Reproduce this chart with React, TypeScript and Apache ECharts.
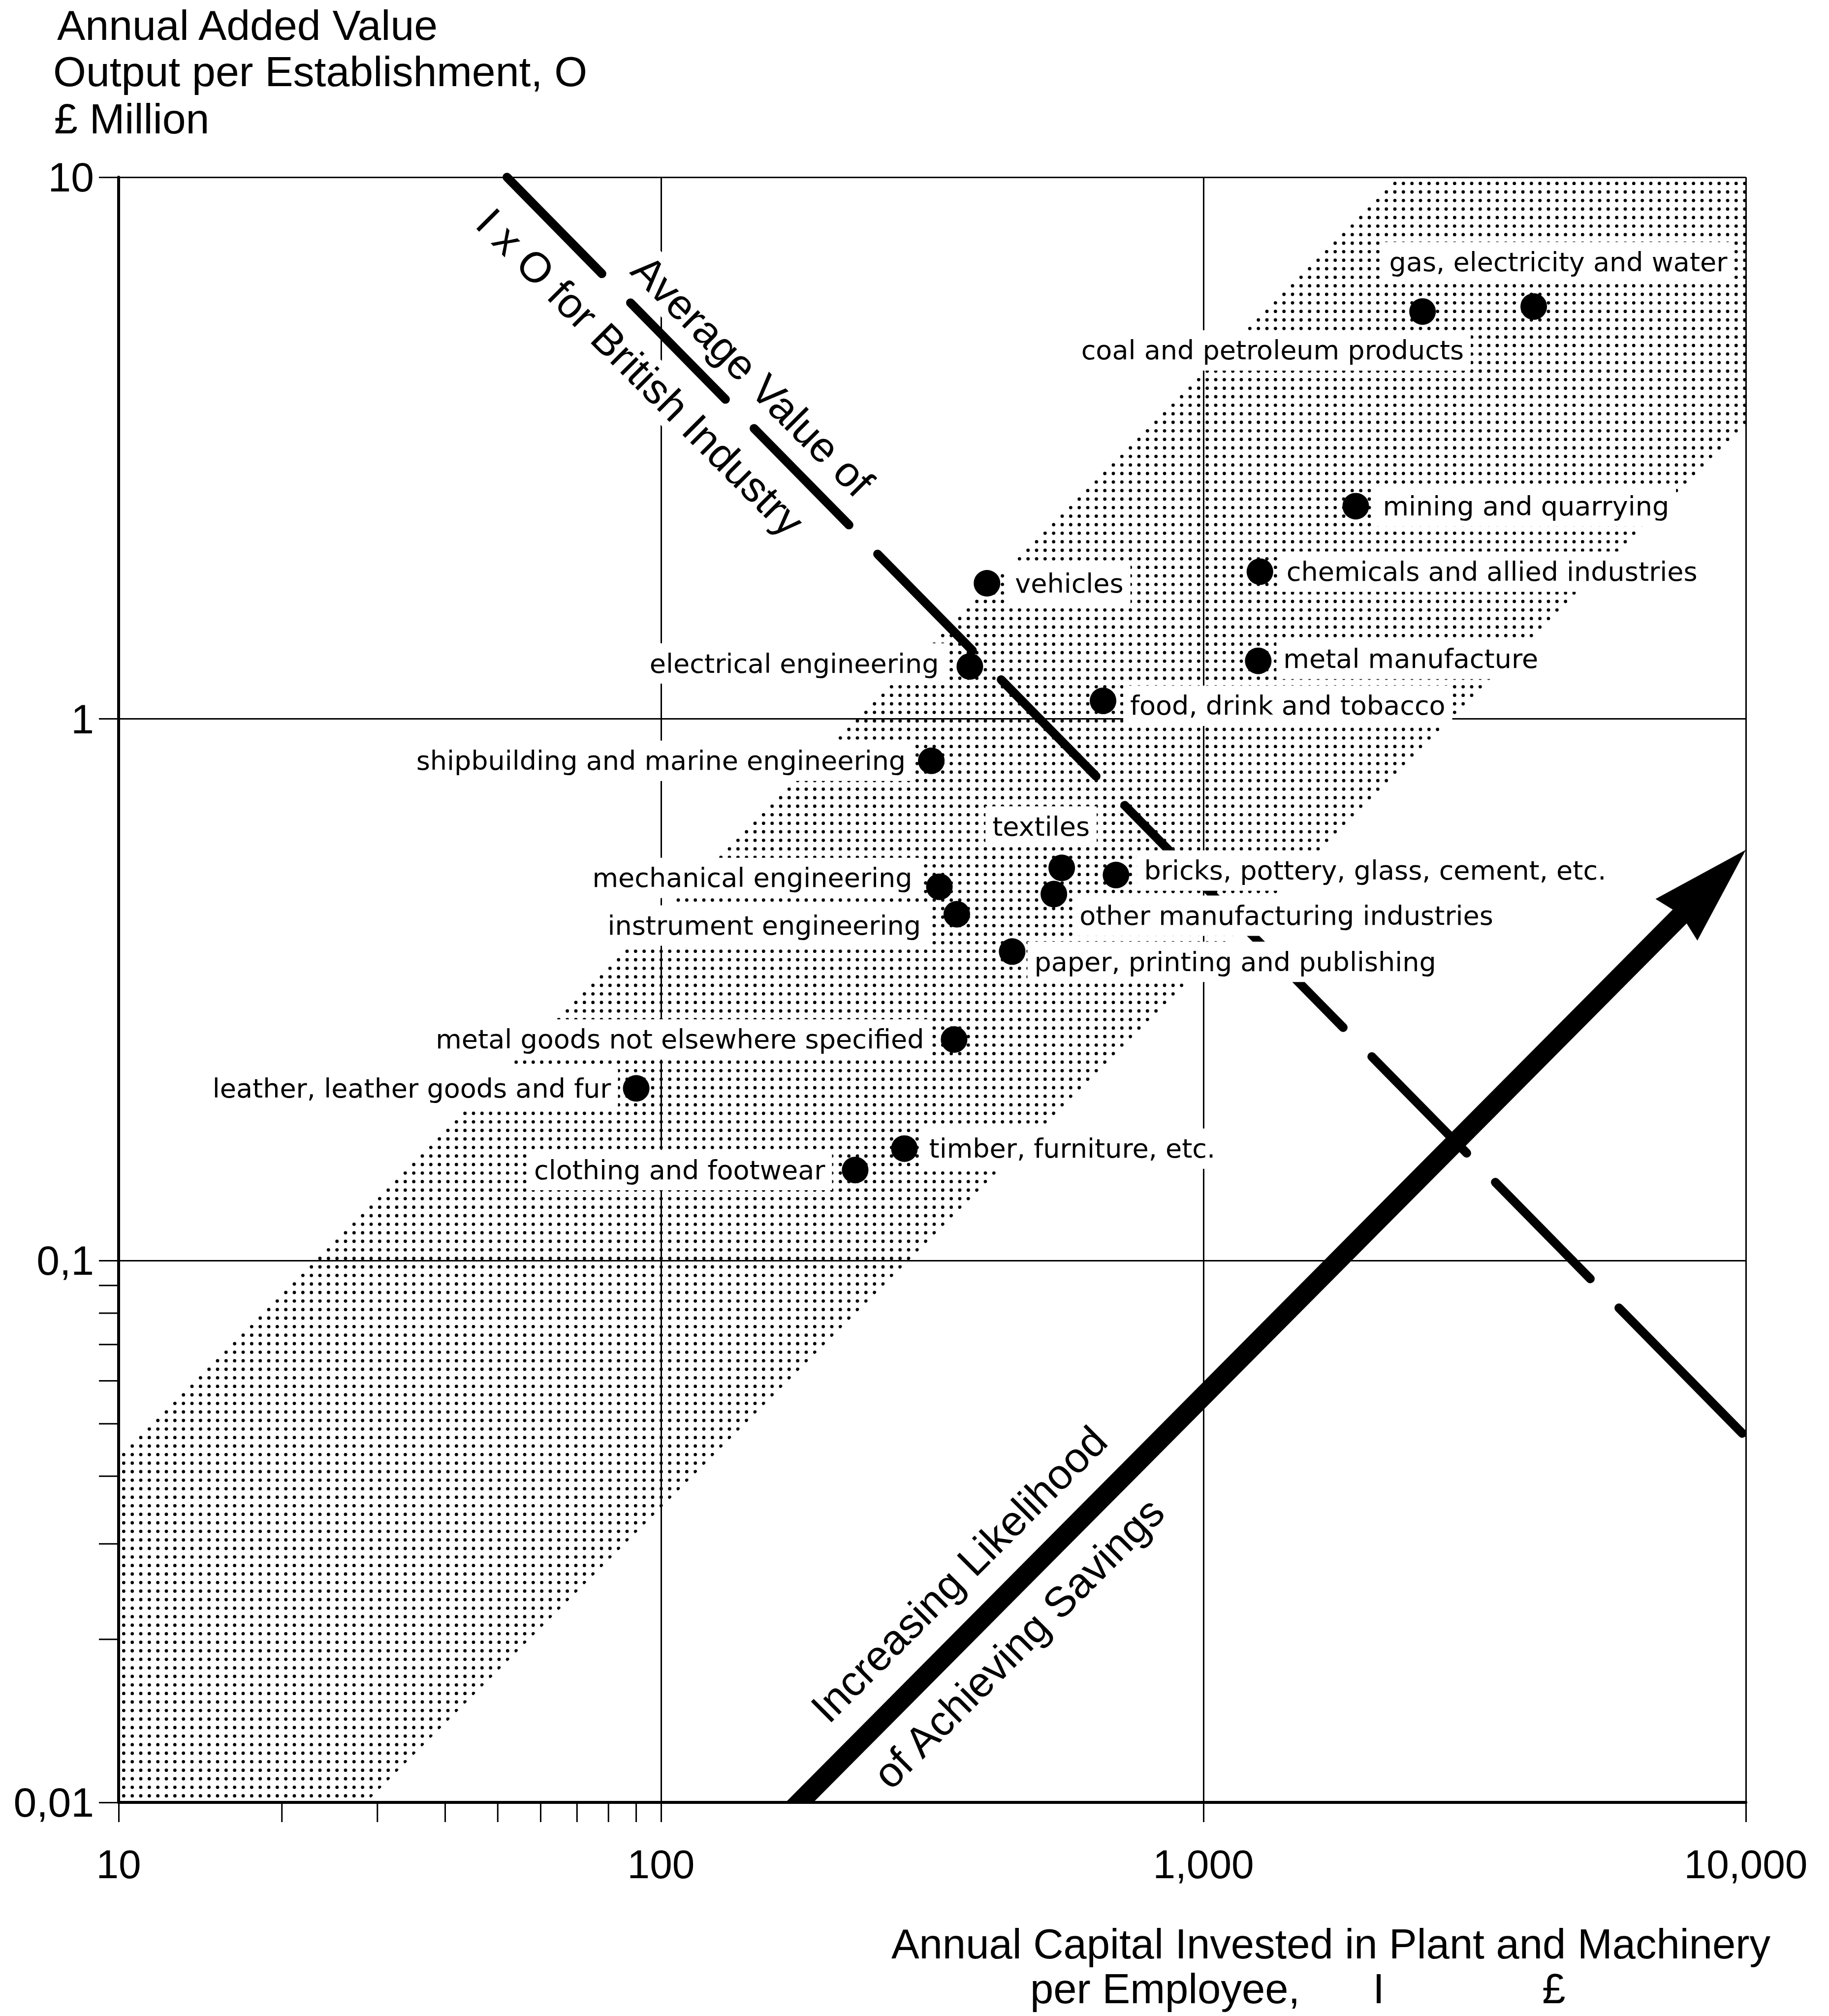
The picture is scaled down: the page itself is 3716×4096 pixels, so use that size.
import React, { useEffect, useRef } from 'react';
import * as echarts from 'echarts';

// ---------- data ----------
const industries = [
  'gas, electricity and water',
  'coal and petroleum products',
  'mining and quarrying',
  'chemicals and allied industries',
  'vehicles',
  'electrical engineering',
  'metal manufacture',
  'food, drink and tobacco',
  'shipbuilding and marine engineering',
  'textiles',
  'bricks, pottery, glass, cement, etc.',
  'mechanical engineering',
  'other manufacturing industries',
  'instrument engineering',
  'paper, printing and publishing',
  'metal goods not elsewhere specified',
  'leather, leather goods and fur',
  'timber, furniture, etc.',
  'clothing and footwear',
];
// I : annual capital invested in plant and machinery per employee (£)
const capitalPerEmployee = [4064, 2535, 1909, 1271, 399, 371, 1262, 653, 315, 548, 690, 326, 530, 351, 444, 347, 90, 281, 228];
// O : annual added value output per establishment (£ million)
const outputPerEstablishment = [5.77, 5.65, 2.47, 1.87, 1.78, 1.25, 1.28, 1.08, 0.837, 0.531, 0.515, 0.49, 0.475, 0.436, 0.372, 0.256, 0.208, 0.161, 0.147];

const xRange = [10, 10000];
const yRange = [0.01, 10];
const xTickLabels = ['10', '100', '1,000', '10,000'];
const yTickLabels = ['0,01', '0,1', '1', '10'];
const xMinorTicks = [20, 30, 40, 50, 60, 70, 80, 90];
const yMinorTicks = [0.02, 0.03, 0.04, 0.05, 0.06, 0.07, 0.08, 0.09];

// shaded band (O proportional to I)
const bandUpperEdge = [[10, 0.044], [2273, 10]];
const bandLowerEdge = [[28.6, 0.01], [10000, 3.5]];
// average I x O line
const averageIOLine = [[52, 10], [9850, 0.048]];
// arrow of increasing likelihood
const savingsArrow = [[180, 0.01], [10000, 0.573]];

const annotationTexts = ['Average Value of', 'I x O for British Industry', 'Increasing Likelihood', 'of Achieving Savings'];
const annotationAnchors = [[147.6, 4.3], [91.6, 4.37], [354, 0.0264], [456, 0.0197]];

// ---------- layout / style (not data) ----------
const annotationRotation = [-45, -45, 45, 45];
const annotationWhiteBg = [true, true, false, false];

type Placement = { align: 'left' | 'right' | 'center'; edge: number; dy: number };
const labelPlacement: Placement[] = [
  { align: 'center', edge: 50, dy: -90 },
  { align: 'right', edge: 84, dy: 79 },
  { align: 'left', edge: 55, dy: 0 },
  { align: 'left', edge: 54, dy: 0 },
  { align: 'left', edge: 57, dy: 0 },
  { align: 'right', edge: -63, dy: -6 },
  { align: 'left', edge: 51, dy: -4 },
  { align: 'left', edge: 55, dy: 10 },
  { align: 'right', edge: -52, dy: 0 },
  { align: 'center', edge: -42, dy: -84 },
  { align: 'left', edge: 57, dy: -9 },
  { align: 'right', edge: -55, dy: -18 },
  { align: 'left', edge: 52, dy: 44 },
  { align: 'right', edge: -73, dy: 23 },
  { align: 'left', edge: 45, dy: 21 },
  { align: 'right', edge: -61, dy: 0 },
  { align: 'right', edge: -51, dy: 0 },
  { align: 'left', edge: 50, dy: 0 },
  { align: 'right', edge: -61, dy: 0 },
];

const PAD_H = 14;
const TICK_LEN = 40;
const SANS = '"Liberation Sans", Arial, sans-serif';
const LABEL_FONT = '"DejaVu Sans", sans-serif';
// 9 regular dash/gap pairs, then a final longer dash running to the line end
const IO_DASH = [275, 83, 275, 83, 275, 83, 275, 83, 275, 83, 275, 83, 275, 83, 275, 83, 275, 83, 420, 10];

function makeDotPattern() {
  const size = 52;
  const c = document.createElement('canvas');
  c.width = size;
  c.height = size;
  const ctx = c.getContext('2d')!;
  ctx.fillStyle = '#000';
  const pitch = size / 3;
  for (let i = 0; i < 3; i++) {
    for (let j = 0; j < 3; j++) {
      ctx.beginPath();
      ctx.arc(pitch / 2 + i * pitch, pitch / 2 + j * pitch, 3.4, 0, Math.PI * 2);
      ctx.fill();
    }
  }
  return { image: c, repeat: 'repeat', imageWidth: size, imageHeight: size };
}

export default function App() {
  const ref = useRef<HTMLDivElement>(null);

  useEffect(() => {
    document.body.style.margin = '0';
    const chart = echarts.init(ref.current!, null, { renderer: 'svg' });
    const dotPattern = makeDotPattern();

    const labelData = industries.map((name, i) => {
      const pl = labelPlacement[i];
      const offX = pl.align === 'left' ? pl.edge - PAD_H : pl.align === 'right' ? pl.edge + PAD_H : pl.edge;
      return {
        name,
        value: [capitalPerEmployee[i], outputPerEstablishment[i]],
        label: { align: pl.align, offset: [offX, pl.dy] },
      };
    });

    const dotData = industries.map((name, i) => ({ name, value: [capitalPerEmployee[i], outputPerEstablishment[i]] }));

    const axisCommon = {
      type: 'log',
      logBase: 10,
      axisLine: { show: true, onZero: false, lineStyle: { color: '#000', width: 6 } },
      axisTick: { show: true, length: TICK_LEN, lineStyle: { color: '#000', width: 3 } },
      splitLine: { show: true, lineStyle: { color: '#000', width: 3 } },
      minorTick: { show: false },
      minorSplitLine: { show: false },
    };

    const option: any = {
      animation: false,
      backgroundColor: '#fff',
      grid: { left: 241, top: 360, width: 3306, height: 3302, containLabel: false },
      xAxis: {
        ...axisCommon,
        min: xRange[0],
        max: xRange[1],
        axisLabel: {
          margin: 84,
          fontFamily: SANS,
          fontSize: 82,
          color: '#000',
          formatter: (v: number) => xTickLabels[Math.round(Math.log10(v)) - 1] ?? '',
        },
      },
      yAxis: {
        ...axisCommon,
        min: yRange[0],
        max: yRange[1],
        axisLabel: {
          margin: 50,
          fontFamily: SANS,
          fontSize: 84,
          color: '#000',
          formatter: (v: number) => yTickLabels[Math.round(Math.log10(v)) + 2] ?? '',
        },
      },
      graphic: [
        { type: 'text', x: 116, y: 51, style: { text: 'Annual Added Value', font: `86px ${SANS}`, fill: '#000', verticalAlign: 'middle' } },
        { type: 'text', x: 108, y: 145, style: { text: 'Output per Establishment, O', font: `86px ${SANS}`, fill: '#000', verticalAlign: 'middle' } },
        { type: 'text', x: 110, y: 241, style: { text: '£ Million', font: `86px ${SANS}`, fill: '#000', verticalAlign: 'middle' } },
        { type: 'text', x: 3597, y: 3949, style: { text: 'Annual Capital Invested in Plant and Machinery', font: `85px ${SANS}`, fill: '#000', align: 'right', verticalAlign: 'middle' } },
        { type: 'text', x: 2093, y: 4040, style: { text: 'per Employee,', font: `85px ${SANS}`, fill: '#000', align: 'left', verticalAlign: 'middle' } },
        { type: 'text', x: 2801, y: 4040, style: { text: 'I', font: `85px ${SANS}`, fill: '#000', align: 'center', verticalAlign: 'middle' } },
        { type: 'text', x: 3157, y: 4040, style: { text: '£', font: `85px ${SANS}`, fill: '#000', align: 'center', verticalAlign: 'middle' } },
      ],
      series: [
        {
          name: 'band',
          type: 'custom',
          coordinateSystem: 'cartesian2d',
          data: [[xRange[0], yRange[0]]],
          silent: true,
          z: 1,
          renderItem: (_params: any, api: any) => {
            const pts = [
              bandUpperEdge[0],
              bandUpperEdge[1],
              [xRange[1], yRange[1]],
              bandLowerEdge[1],
              bandLowerEdge[0],
              [xRange[0], yRange[0]],
            ].map((p) => api.coord(p));
            return { type: 'polygon', shape: { points: pts }, style: { fill: dotPattern, stroke: null } };
          },
        },
        {
          name: 'xMinorTicks',
          type: 'custom',
          coordinateSystem: 'cartesian2d',
          data: xMinorTicks.map((v) => [v, yRange[0]]),
          clip: false,
          silent: true,
          z: 2,
          renderItem: (_params: any, api: any) => {
            const p = api.coord([api.value(0), api.value(1)]);
            return { type: 'line', shape: { x1: p[0], y1: p[1], x2: p[0], y2: p[1] + TICK_LEN }, style: { stroke: '#000', lineWidth: 3 } };
          },
        },
        {
          name: 'yMinorTicks',
          type: 'custom',
          coordinateSystem: 'cartesian2d',
          data: yMinorTicks.map((v) => [xRange[0], v]),
          clip: false,
          silent: true,
          z: 2,
          renderItem: (_params: any, api: any) => {
            const p = api.coord([api.value(0), api.value(1)]);
            return { type: 'line', shape: { x1: p[0] - TICK_LEN, y1: p[1], x2: p[0], y2: p[1] }, style: { stroke: '#000', lineWidth: 3 } };
          },
        },
        {
          name: 'averageIO',
          type: 'line',
          data: averageIOLine,
          symbol: 'none',
          silent: true,
          z: 3,
          lineStyle: { color: '#000', width: 18, type: IO_DASH, cap: 'round' },
        },
        {
          name: 'arrow',
          type: 'custom',
          coordinateSystem: 'cartesian2d',
          data: [savingsArrow[0]],
          clip: false,
          silent: true,
          z: 3,
          renderItem: (_params: any, api: any) => {
            const p0 = api.coord(savingsArrow[0]);
            const p1 = api.coord(savingsArrow[1]);
            const dx = p1[0] - p0[0];
            const dy = p1[1] - p0[1];
            const len = Math.hypot(dx, dy);
            const ux = dx / len;
            const uy = dy / len;
            const nx = -uy;
            const ny = ux;
            const headLen = 200;
            const headHalf = 60;
            const notch = 186;
            const shaftHalf = 20;
            const corner = (s: number) => {
              const ox = nx * shaftHalf * s;
              const oy = ny * shaftHalf * s;
              const t = -oy / uy;
              return [p0[0] + ox + ux * t, p0[1] + oy + uy * t];
            };
            const se = [p1[0] - ux * (notch - 14), p1[1] - uy * (notch - 14)];
            const shaft = [
              corner(1),
              [se[0] + nx * shaftHalf, se[1] + ny * shaftHalf],
              [se[0] - nx * shaftHalf, se[1] - ny * shaftHalf],
              corner(-1),
            ];
            const nb = [p1[0] - ux * notch, p1[1] - uy * notch];
            const head = [
              p1,
              [p1[0] - ux * headLen + nx * headHalf, p1[1] - uy * headLen + ny * headHalf],
              nb,
              [p1[0] - ux * headLen - nx * headHalf, p1[1] - uy * headLen - ny * headHalf],
            ];
            return {
              type: 'group',
              children: [
                { type: 'polygon', shape: { points: shaft }, style: { fill: '#000' } },
                { type: 'polygon', shape: { points: head }, style: { fill: '#000' } },
              ],
            };
          },
        },
        {
          name: 'annotations',
          type: 'custom',
          coordinateSystem: 'cartesian2d',
          data: annotationAnchors,
          clip: false,
          silent: true,
          z: 4,
          renderItem: (params: any, api: any) => {
            const i = params.dataIndex;
            const p = api.coord([api.value(0), api.value(1)]);
            return {
              type: 'text',
              x: p[0],
              y: p[1],
              rotation: (annotationRotation[i] * Math.PI) / 180,
              style: {
                text: annotationTexts[i],
                fontFamily: SANS,
                fontSize: 86,
                fill: '#000',
                align: 'center',
                verticalAlign: 'middle',
                backgroundColor: annotationWhiteBg[i] ? '#fff' : 'transparent',
                padding: [4, 10],
              },
            };
          },
        },
        {
          name: 'labels',
          type: 'scatter',
          data: labelData,
          symbolSize: 1,
          silent: true,
          z: 5,
          itemStyle: { color: 'rgba(0,0,0,0)' },
          label: {
            show: true,
            position: 'inside',
            formatter: '{b}',
            fontFamily: LABEL_FONT,
            fontSize: 54,
            lineHeight: 58,
            color: '#000',
            opacity: 1,
            backgroundColor: '#fff',
            padding: [12, PAD_H],
            verticalAlign: 'middle',
          },
        },
        {
          name: 'industries',
          type: 'scatter',
          data: dotData,
          symbol: 'circle',
          symbolSize: 54,
          silent: true,
          z: 6,
          itemStyle: { color: '#000', opacity: 1 },
        },
      ],
    };

    chart.setOption(option);
    return () => chart.dispose();
  }, []);

  return <div ref={ref} style={{ width: 3716, height: 4096, background: '#fff' }} />;
}
